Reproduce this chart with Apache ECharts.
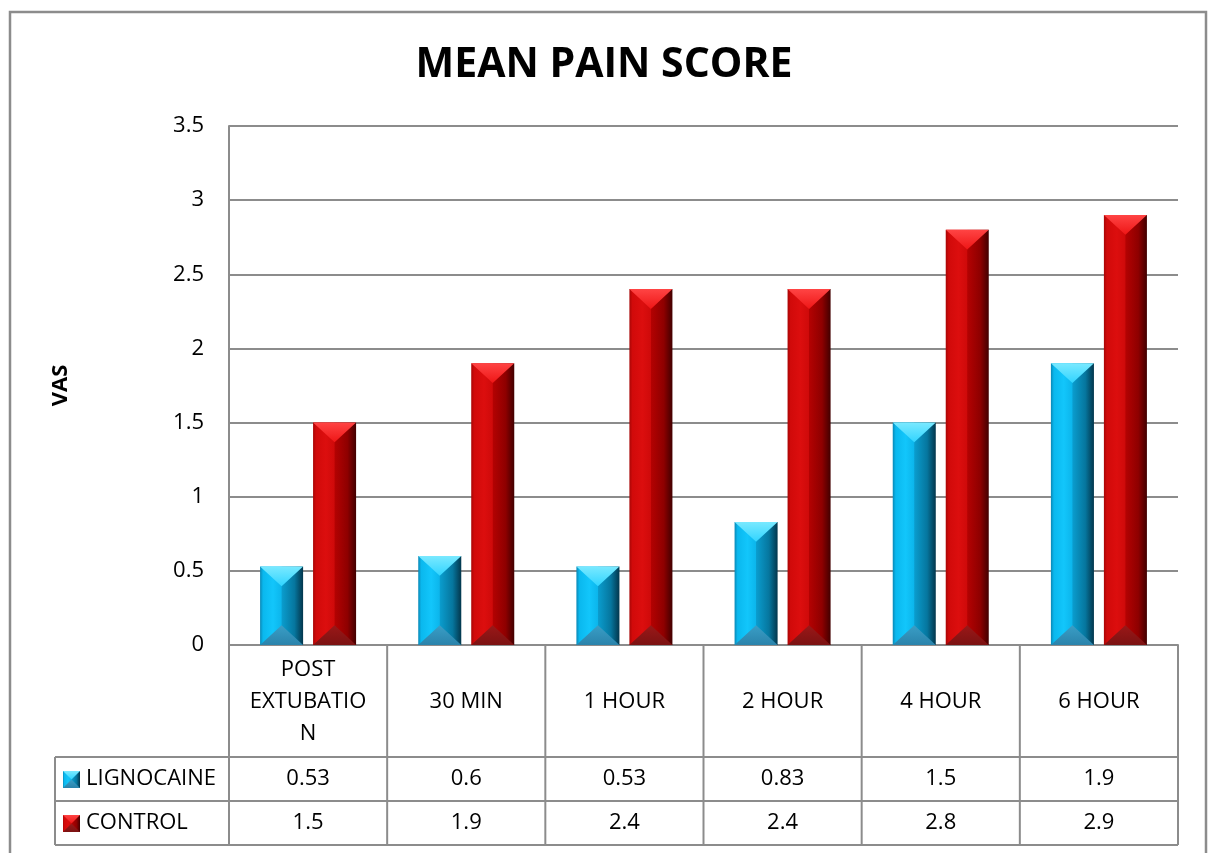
<!DOCTYPE html>
<html>
<head>
<meta charset="utf-8">
<script src="https://cdn.jsdelivr.net/npm/echarts@6/dist/echarts.min.js"></script>
<style>
  html, body { margin: 0; padding: 0; background: #ffffff; }
  #chart { width: 1208px; height: 853px; }
</style>
</head>
<body>
<div id="chart"></div>
<script>
// ---- data ----
const categories = ['POST\nEXTUBATIO\nN', '30 MIN', '1 HOUR', '2 HOUR', '4 HOUR', '6 HOUR'];
const seriesNames = ['LIGNOCAINE', 'CONTROL'];
const lignocaine = [0.53, 0.6, 0.53, 0.83, 1.5, 1.9];
const control = [1.5, 1.9, 2.4, 2.4, 2.8, 2.9];
const yTickLabels = ['0', '0.5', '1', '1.5', '2', '2.5', '3', '3.5'];

// ---- styling ----
const FONT = '"Open Sans", "DejaVu Sans", sans-serif';
const LINE = '#8c8c8c';
const GRID = { left: 229, right: 30, top: 126, bottom: 208 };

const palettes = [
  { // cyan bevel
    body: [[0, '#0a88b6'], [0.07, '#0ab8ee'], [0.3, '#12c6fb'], [0.49, '#0cb6ec'],
           [0.51, '#0a9ccd'], [0.8, '#06769e'], [1, '#03364c']],
    top: ['#7ae9ff', '#30d4ff'],
    bottom: ['#2a83ab', '#3a9ec6']
  },
  { // red bevel
    body: [[0, '#a80606'], [0.07, '#d10a0a'], [0.3, '#dc0e0e'], [0.49, '#cf0a0a'],
           [0.51, '#b30202'], [0.8, '#8e0000'], [1, '#420000']],
    top: ['#ff4444', '#ee1616'],
    bottom: ['#7c1212', '#9a1818']
  }
];

function grad(stops, vertical) {
  return {
    type: 'linear', x: 0, y: 0, x2: vertical ? 0 : 1, y2: vertical ? 1 : 0,
    colorStops: stops.map(function (s) { return { offset: s[0], color: s[1] }; })
  };
}

// Builds the beveled block (body + top/bottom facets) for a rectangle.
function bevelShapes(x0, y0, w, h, pal, depthRatio) {
  const d = Math.min(w * depthRatio, h / 2);
  const xm = x0 + w / 2;
  const y1 = y0 + h;
  return [
    { type: 'rect', shape: { x: x0, y: y0, width: w, height: h },
      style: { fill: grad(pal.body, false) } },
    { type: 'polygon', shape: { points: [[x0, y0], [x0 + w, y0], [xm, y0 + d]] },
      style: { fill: grad([[0, pal.top[0]], [1, pal.top[1]]], true) } },
    { type: 'polygon', shape: { points: [[x0, y1], [x0 + w, y1], [xm, y1 - d]] },
      style: { fill: grad([[0, pal.bottom[1]], [1, pal.bottom[0]]], true) } }
  ];
}

function makeRenderer(seriesIdx) {
  return function (params, api) {
    const cat = api.value(0);
    const val = api.value(1);
    const band = api.size([1, 0])[0];
    const barW = band * 0.272;
    const gap = band * 0.063;
    const top = api.coord([cat, val]);
    const base = api.coord([cat, 0]);
    const x0 = seriesIdx === 0 ? top[0] - gap / 2 - barW : top[0] + gap / 2;
    const h = base[1] - top[1];
    return { type: 'group', children: bevelShapes(x0, top[1], barW, h, palettes[seriesIdx], 0.46) };
  };
}

const seriesData = [lignocaine, control];

const chart = echarts.init(document.getElementById('chart'), null, { renderer: 'canvas' });

const option = {
  backgroundColor: '#ffffff',
  animation: false,
  title: {
    text: 'MEAN PAIN SCORE',
    left: 'center',
    top: 40,
    textStyle: { fontFamily: FONT, fontWeight: 'bold', fontSize: 41, color: '#000' }
  },
  grid: GRID,
  xAxis: {
    type: 'category',
    data: categories,
    axisLine: { show: true, lineStyle: { color: LINE, width: 2 } },
    axisTick: { show: false },
    splitLine: { show: false },
    axisLabel: {
      interval: 0,
      margin: 57,
      verticalAlign: 'middle',
      lineHeight: 32,
      fontFamily: FONT,
      fontSize: 22,
      color: '#000'
    }
  },
  yAxis: {
    type: 'value',
    min: 0,
    max: 3.5,
    interval: 0.5,
    name: 'VAS',
    nameLocation: 'middle',
    nameGap: 157,
    nameRotate: 90,
    nameTextStyle: { fontFamily: FONT, fontWeight: 'bold', fontSize: 22, color: '#000' },
    axisLine: { show: true, lineStyle: { color: LINE, width: 2 } },
    axisTick: { show: false },
    splitLine: { show: true, lineStyle: { color: LINE, width: 2 } },
    axisLabel: {
      margin: 25,
      fontFamily: FONT,
      fontSize: 22,
      color: '#000',
      formatter: function (v) { return yTickLabels[Math.round(v / 0.5)]; }
    }
  },
  series: seriesData.map(function (vals, si) {
    return {
      type: 'custom',
      name: seriesNames[si],
      renderItem: makeRenderer(si),
      encode: { x: 0, y: 1 },
      data: vals.map(function (v, i) { return [i, v]; }),
      z: 3
    };
  })
};

chart.setOption(option);

// ---- data table under the plot ----
function buildTable() {
  const c0 = chart.convertToPixel({ xAxisIndex: 0 }, 0);
  const c1 = chart.convertToPixel({ xAxisIndex: 0 }, 1);
  const cw = c1 - c0;
  const axisY = chart.convertToPixel({ yAxisIndex: 0 }, 0);
  const left = c0 - cw / 2;
  const right = left + cw * categories.length;
  const headerBottom = axisY + 112;
  const rowH = 44;
  const tableLeft = 55;
  const els = [];
  const ls = { stroke: LINE, lineWidth: 2 };

  // frame around the whole chart
  els.push({ type: 'rect', shape: { x: 10, y: 12, width: 1196, height: 870 },
             style: { fill: null, stroke: LINE, lineWidth: 2.5 }, silent: true });

  // column separators
  for (let i = 0; i <= categories.length; i++) {
    const x = left + i * cw;
    els.push({ type: 'line', shape: { x1: x, y1: axisY, x2: x, y2: headerBottom + rowH * 2 }, style: ls });
  }
  // row separators
  for (let r = 0; r <= 2; r++) {
    const y = headerBottom + r * rowH;
    els.push({ type: 'line', shape: { x1: tableLeft, y1: y, x2: right, y2: y }, style: ls });
  }
  els.push({ type: 'line', shape: { x1: tableLeft, y1: headerBottom, x2: tableLeft, y2: headerBottom + rowH * 2 }, style: ls });

  seriesData.forEach(function (vals, si) {
    const cy = headerBottom + rowH * si + rowH / 2;
    // legend key
    els.push({ type: 'group', children: bevelShapes(63, cy - 8, 17, 17, palettes[si], 0.5) });
    els.push({ type: 'text', x: 86, y: cy,
               style: { text: seriesNames[si], fontFamily: FONT, fontSize: 22, fill: '#000',
                        align: 'left', verticalAlign: 'middle' } });
    vals.forEach(function (v, i) {
      els.push({ type: 'text', x: c0 + i * cw, y: cy,
                 style: { text: String(v), fontFamily: FONT, fontSize: 22, fill: '#000',
                          align: 'center', verticalAlign: 'middle' } });
    });
  });

  chart.setOption({ graphic: els });
}
buildTable();
</script>
</body>
</html>
